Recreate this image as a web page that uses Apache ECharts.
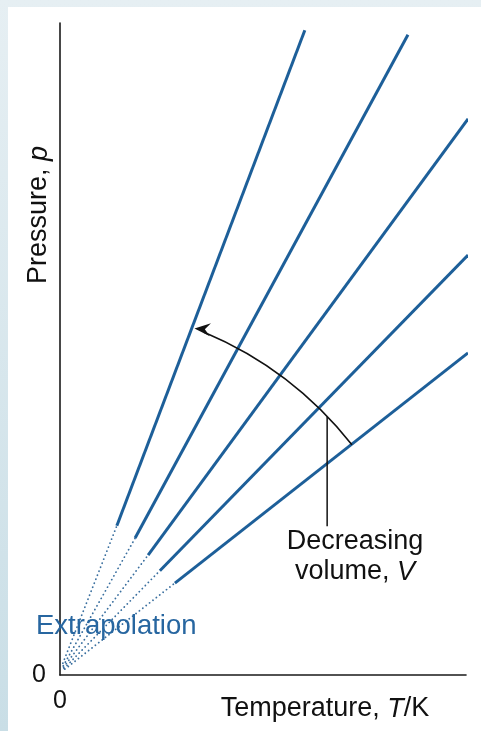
<!DOCTYPE html>
<html>
<head>
<meta charset="utf-8">
<script src="https://cdn.jsdelivr.net/npm/echarts@6/dist/echarts.min.js"></script>
<style>
html,body{margin:0;padding:0;background:#fff;}
#c{width:481px;height:731px;}
</style>
</head>
<body>
<div id="c"></div>
<script>
// Isochores: solid segment start / end points (data units, origin at 0 K, p = 0)
const solidStart = [[14.0, 22.9], [18.5, 21.0], [21.7, 18.4], [24.6, 16.0], [28.3, 14.1]];
const solidEnd   = [[60.3, 98.9], [85.7, 98.2], [100.5, 85.3], [100.5, 64.4], [100.5, 49.4]];
// Extrapolated (dotted) part from near origin to solid start
const dotStart   = [[0.7, 1.8], [0.8, 1.4], [0.9, 1.2], [1.0, 1.0], [1.2, 0.9]];
// Annotation arrow (arc about origin) and leader line
const arcFrom = [71.9, 35.3];
const arcTo   = [33.4, 53.6];
const leader  = [[65.8, 39.6], [65.8, 22.8]];
const xTicks = [0, 100];
const yTicks = [0, 100];

const BLUE = '#1d5f99';
const FONT = "'Liberation Sans', Arial, Helvetica, sans-serif";
const FS = 27;

const series = [];
for (let i = 0; i < solidStart.length; i++) {
  series.push({
    type: 'line', data: [dotStart[i], solidStart[i]], symbol: 'none', silent: true, clip: false,
    lineStyle: { color: '#3a6f9f', width: 1.8, type: [0.1, 4.2], cap: 'round' }, z: 2
  });
  series.push({
    type: 'line', data: [solidStart[i], solidEnd[i]], symbol: 'none', silent: true, clip: false,
    lineStyle: { color: BLUE, width: 3 }, z: 3
  });
}
series.push({
  type: 'line', data: leader, symbol: 'none', silent: true,
  lineStyle: { color: '#111', width: 1.5 }, z: 4
});
series.push({
  type: 'custom', z: 5, silent: true,
  data: [[arcFrom[0], arcFrom[1], arcTo[0], arcTo[1]]],
  renderItem: function (params, api) {
    const o = api.coord([0, 0]);
    const s = api.coord([api.value(0), api.value(1)]);
    const e = api.coord([api.value(2), api.value(3)]);
    const r = Math.hypot(s[0] - o[0], s[1] - o[1]);
    const a0 = Math.atan2(s[1] - o[1], s[0] - o[0]);
    const a1 = Math.atan2(e[1] - o[1], e[0] - o[0]);
    const tip = [o[0] + r * Math.cos(a1), o[1] + r * Math.sin(a1)];
    const d = [Math.sin(a1) * 0.96 - Math.cos(a1) * 0.28, -Math.cos(a1) * 0.96 - Math.sin(a1) * 0.28];
    const L = 16, W = 6.5;
    const b = [tip[0] - d[0] * L, tip[1] - d[1] * L];
    const n = [-d[1], d[0]];
    const notch = [tip[0] - d[0] * L * 0.65, tip[1] - d[1] * L * 0.65];
    const aEnd = a1 + (L * 0.65) / r;
    return {
      type: 'group',
      children: [
        { type: 'arc', shape: { cx: o[0], cy: o[1], r: r, startAngle: a0, endAngle: aEnd, clockwise: false },
          style: { stroke: '#111', lineWidth: 1.6, fill: null } },
        { type: 'polygon', shape: { points: [tip, [b[0] + n[0] * W, b[1] + n[1] * W], notch, [b[0] - n[0] * W, b[1] - n[1] * W]] },
          style: { fill: '#111', stroke: null } }
      ]
    };
  }
});

const rich = {
  a: { fontSize: FS, fontFamily: FONT, fill: '#111' },
  i: { fontSize: FS, fontFamily: FONT, fontStyle: 'italic', fill: '#111' }
};

const chart = echarts.init(document.getElementById('c'), null, { renderer: 'canvas' });
chart.setOption({
  animation: false,
  backgroundColor: new echarts.graphic.LinearGradient(0, 0, 0, 1, [
    { offset: 0, color: '#e6eff3' }, { offset: 1, color: '#c9dee6' }
  ]),
  textStyle: { fontFamily: FONT },
  grid: { left: 60, right: 15, top: 23, bottom: 56 },
  xAxis: {
    type: 'value', min: xTicks[0], max: xTicks[1], interval: 100,
    axisLine: { lineStyle: { color: '#1a1a1a', width: 1.6 } },
    axisTick: { show: false }, splitLine: { show: false },
    axisLabel: { margin: 14, fontSize: 25, color: '#111', fontFamily: FONT,
      formatter: v => (v === 0 ? '0' : '') }
  },
  yAxis: {
    type: 'value', min: yTicks[0], max: yTicks[1], interval: 100,
    axisLine: { show: true, lineStyle: { color: '#1a1a1a', width: 1.6 } },
    axisTick: { show: false }, splitLine: { show: false },
    axisLabel: { margin: 14, fontSize: 25, color: '#111', fontFamily: FONT,
      formatter: v => (v === 0 ? '0' : '') }
  },
  graphic: [
    { type: 'rect', z: -10, silent: true, shape: { x: 8, y: 7, width: 481, height: 731 }, style: { fill: '#fff' } },
    { type: 'text', x: 325, y: 709, style: {
        text: '{a|Temperature, }{i|T}{a|/K}', align: 'center', verticalAlign: 'middle', rich: rich } },
    { type: 'text', x: 39, y: 215, rotation: Math.PI / 2, style: {
        text: '{a|Pressure, }{i|p}', align: 'center', verticalAlign: 'middle', rich: rich } },
    { type: 'text', x: 355, y: 542, style: { text: 'Decreasing', align: 'center', verticalAlign: 'middle', fontSize: FS, fontFamily: FONT, fill: '#111' } },
    { type: 'text', x: 355, y: 572, style: {
        text: '{a|volume, }{i|V}', align: 'center', verticalAlign: 'middle', rich: rich } },
    { type: 'text', x: 36, y: 626, z: 10, style: { text: 'Extrapolation', align: 'left', verticalAlign: 'middle', fontSize: 27.5, fontFamily: FONT, fill: '#2766a0' } }
  ],
  series: series
});
</script>
</body>
</html>
